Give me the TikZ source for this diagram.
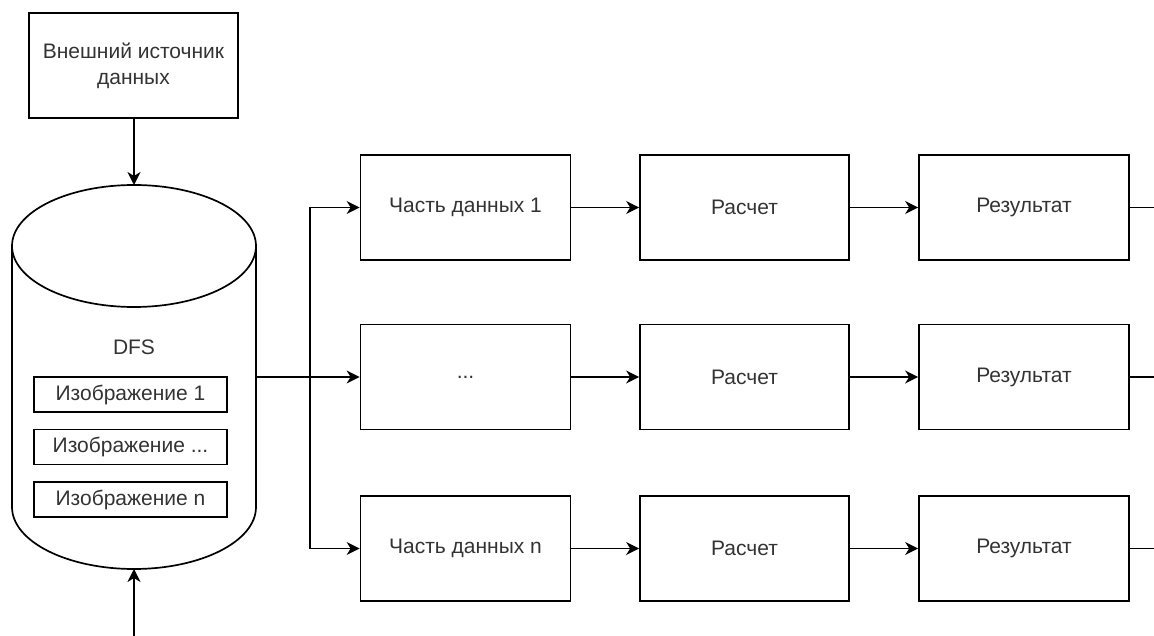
\documentclass[tikz,border=0pt]{standalone}
\usepackage{fontspec}
\setmainfont{Liberation Sans}
\usetikzlibrary{arrows.meta}
\definecolor{txt}{HTML}{333333}
\begin{document}
\begin{tikzpicture}[x=1pt,y=-1pt,
  line width=1.7pt,
  lbl/.style={text=txt,font=\fontsize{21}{26}\selectfont},
  box/.style={draw,lbl,inner sep=0pt,minimum width=210pt,minimum height=105pt,align=center},
  imgbox/.style={draw,lbl,inner sep=0pt,minimum width=193pt,minimum height=35pt},
  arr/.style={-{Stealth[length=13pt,width=13pt,inset=4pt]}}]
\useasboundingbox (0,0) rectangle (1154,636);

% external source
\node[box,minimum width=209pt] (src) at (133.5,65.5) {Внешний источник\\данных};

% DFS storage cylinder (node gives the anchors, outline drawn by hand)
\node[minimum width=244pt,minimum height=384pt,inner sep=0pt,outer sep=0pt] (dfs) at (134,377) {};
\draw (134,246) ellipse [x radius=122pt,y radius=61pt];
\draw (12,246) -- (12,507) arc [start angle=180,end angle=360,x radius=122pt,y radius=62pt] -- (256,246);
\node[lbl] (dfslbl) at (134,347) {DFS};
\node[imgbox] (img1) at (130.5,394.5) {Изображение 1};
\node[imgbox] (img2) at (130.5,447) {Изображение ...};
\node[imgbox] (img3) at (130.5,499.5) {Изображение n};

% processing rows
\node[box] (p1) at (465.5,207.5) {Часть данных 1};
\node[box] (p2) at (465.5,377) {...};
\node[box] (p3) at (465.5,548.5) {Часть данных n};
\node[box,minimum width=209pt] (c1) at (744.5,207.5) {Расчет};
\node[box,minimum width=209pt] (c2) at (744.5,377) {Расчет};
\node[box,minimum width=209pt] (c3) at (744.5,548.5) {Расчет};
\node[box] (r1) at (1024,207.5) {Результат};
\node[box] (r2) at (1024,377) {Результат};
\node[box] (r3) at (1024,548.5) {Результат};

\coordinate (o1) at (1154,207.5);
\coordinate (o2) at (1154,377);
\coordinate (o3) at (1154,548.5);
\coordinate (feed) at (134,636);

% connectors
\draw[arr] (src.south -| dfs.north) -- (dfs.north);
\draw[arr] (feed) -- (dfs.south);
\draw[arr] (dfs.east) -- (p2.west);
\draw[arr] (dfs.east) -- ++(54,0) |- (p1.west);
\draw[arr] (dfs.east) -- ++(54,0) |- (p3.west);
\foreach \i in {1,2,3}{
  \draw[arr] (p\i.east) -- (c\i.west);
  \draw[arr] (c\i.east) -- (r\i.west);
  \draw (r\i.east) -- (o\i);
}
\end{tikzpicture}
\end{document}
